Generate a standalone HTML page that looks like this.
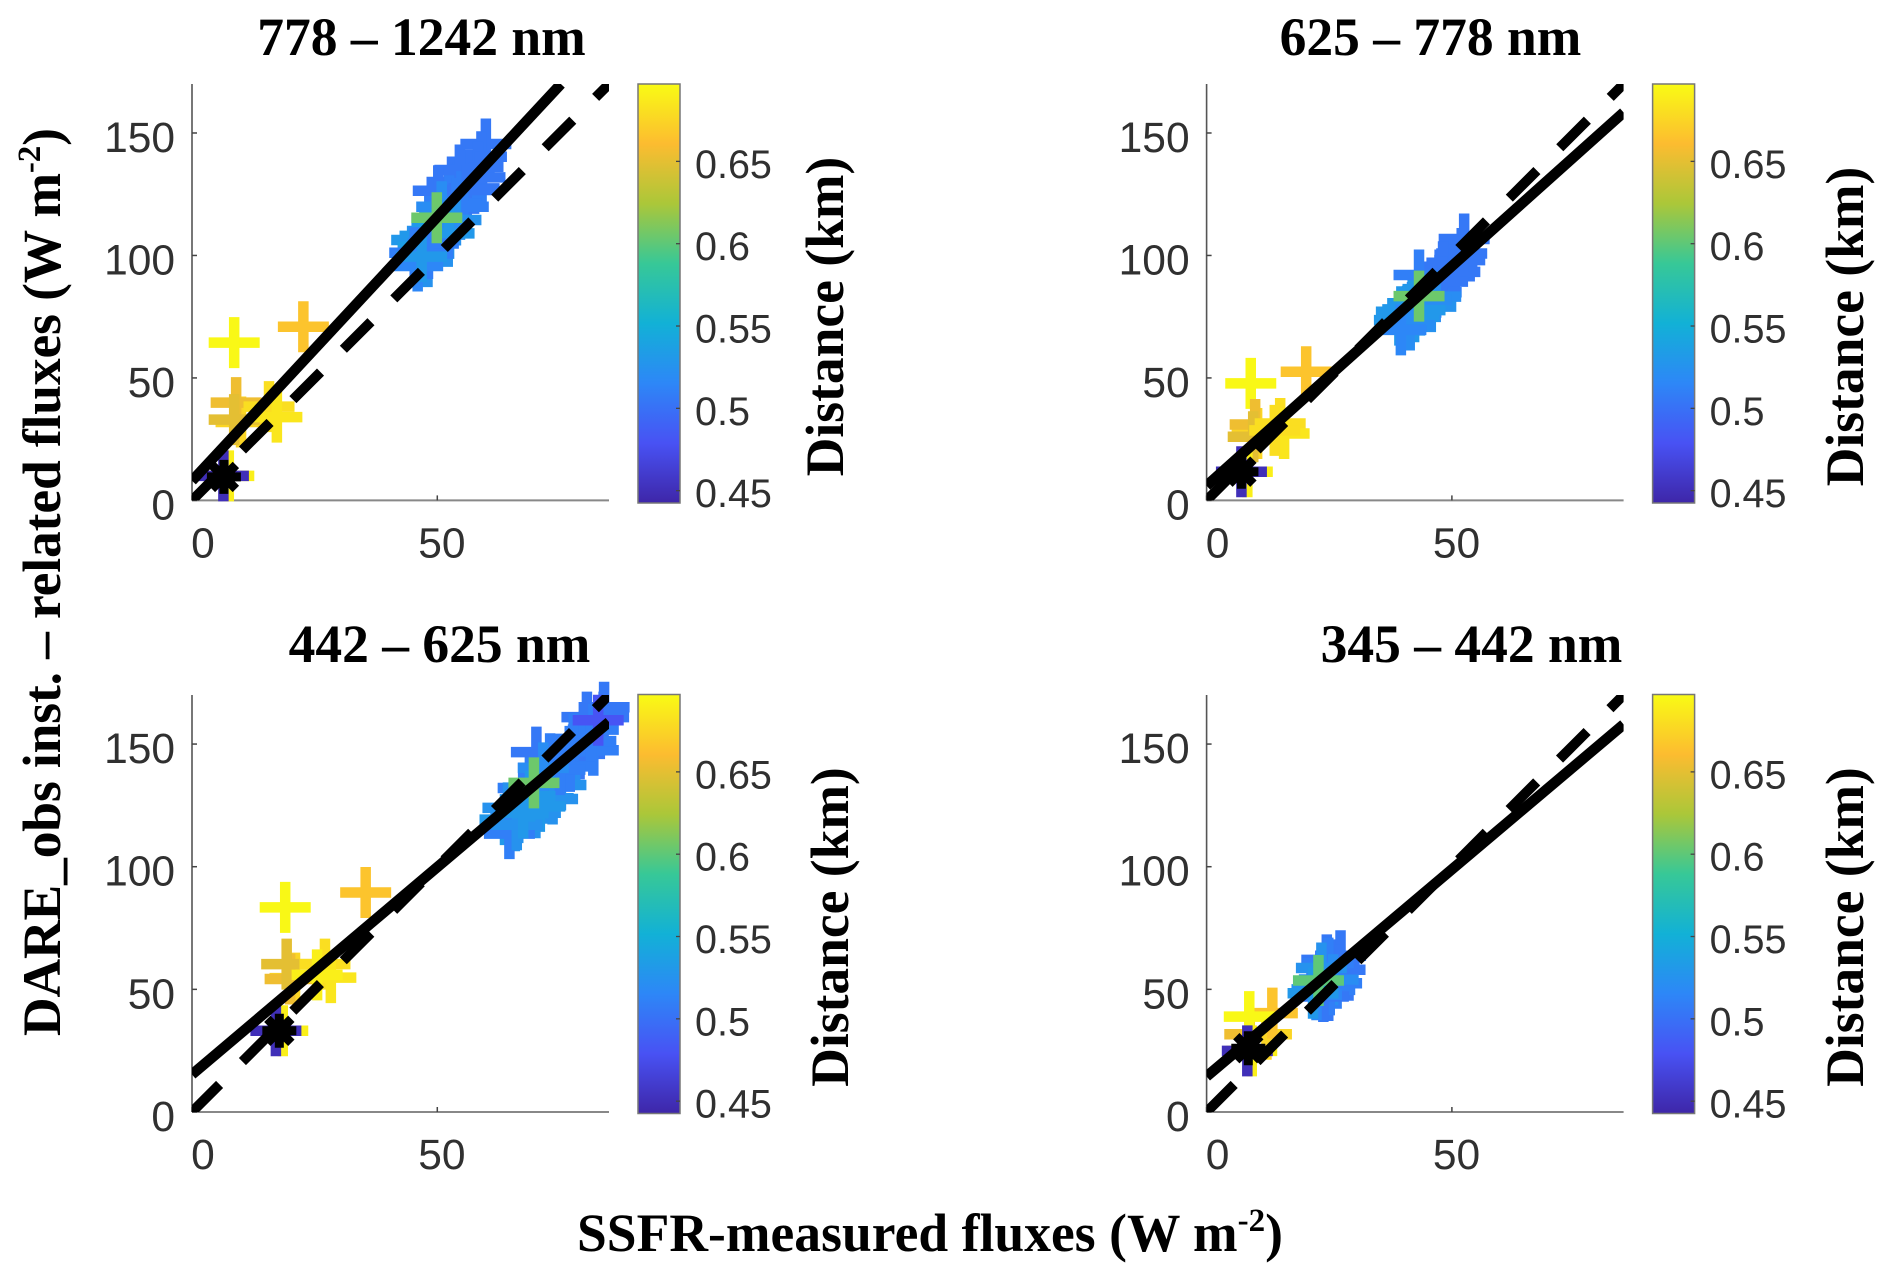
<!DOCTYPE html>
<html lang="en">
<head>
<meta charset="utf-8">
<title>DARE_obs vs SSFR fluxes</title>
<style>
html,body{margin:0;padding:0;background:#fff;width:1892px;height:1282px;overflow:hidden}
svg{display:block}
.tick{font-family:"Liberation Sans",sans-serif;font-size:42.5px;fill:#303030}
.cb{font-family:"Liberation Sans",sans-serif;font-size:39.5px;fill:#303030}
.bold{font-family:"Liberation Serif",serif;font-weight:bold;font-size:53.5px;fill:#000}
</style>
</head>
<body>
<svg id="figure" xmlns="http://www.w3.org/2000/svg" width="1892" height="1282" viewBox="0 0 1892 1282">
  <defs id="defs"></defs>
  <text class="bold" transform="translate(60,1036) rotate(-90)" textLength="908" lengthAdjust="spacing">DARE_obs inst. – related fluxes (W m<tspan dy="-20" font-size="33">-2</tspan><tspan dy="20">)</tspan></text>
  <text class="bold" x="577" y="1251" textLength="706" lengthAdjust="spacing">SSFR-measured fluxes (W m<tspan dy="-20" font-size="33">-2</tspan><tspan dy="20">)</tspan></text>
</svg>
<script>
// Shared ticks and limits
const xTicks = [0, 50];
const yTicks = [0, 50, 100, 150];
const cbTicks = [0.45, 0.5, 0.55, 0.6, 0.65];
const cbTickLabels = ['0.45', '0.5', '0.55', '0.6', '0.65'];
const xLimit = [0, 85];
const yLimit = [0, 170];
const distanceLimit = [0.4425, 0.697];
const parula = ['#3e26a8', '#4852f4', '#2d87f7', '#12b1d6', '#37c897', '#abc739', '#fcbc30', '#f9fb14'];

// Panel titles
const panelTitles = ['778 – 1242 nm', '625 – 778 nm', '442 – 625 nm', '345 – 442 nm'];

// Fit lines
const solidStartY = [8, 6, 15.3, 14.5];
const solidEndX = [75.2, 85, 85, 85];
const solidEndY = [170, 158.4, 159, 158];
const dashedX = [0, 85];
const dashedY = [0, 170];

// Mean (asterisk) points
const meanX = [6.5, 7.1, 17.8, 8.5];
const meanY = [9.6, 11.7, 33.1, 26];

// Panel 1: 778-1242 nm
const p1X = [56.5,53,55,52.5,51.5,49,47.5,50.5,48,59.9,59.0,58.3,58.7,57.5,54.6,50.2,54.9,56.0,50.9,53.9,55.3,53.8,51.9,52.4,45.8,47.1,49.2,45.4,48.1,46.0,46.8,49.9,8.6,22.7,10,9,8.6,15.7,17.3,7.5,6.4];
const p1Y = [133,130,129.5,122.5,118,110,108,108.5,97.5,145.5,140.3,136.2,131.9,127.4,134.9,126.4,124,126.7,119.9,121.2,119.9,114.5,113,109,106.3,103.5,104.9,101.1,100.8,95.7,99.5,115.4,64.4,70.9,32,39.9,33,38.3,34,10,10];
const p1D = [.505,.505,.505,.51,.52,.525,.53,.52,.525,.505,.505,.505,.505,.505,.505,.505,.51,.505,.52,.51,.51,.525,.52,.53,.53,.535,.51,.51,.51,.515,.53,.605,.695,.665,.675,.655,.65,.68,.685,.69,.45];

// Panel 2: 625-778 nm
const p2X = [49.5,47.5,46,45,44,42,41,46.8,45.5,41,50,52.5,52,51.6,50.6,48.2,43.3,48.1,46.7,45.7,44.8,43.5,42.3,39.7,39.3,41.4,39.6,43.3,9,20.3,10.3,9.9,9.5,15,15.8,13.9,8.3,7.1];
const p2Y = [91.5,92,87,85.5,79.5,80.5,74.5,85,80,78,97,106.7,100.8,98.1,93.3,95.4,92,89.3,83.2,79.1,81.8,77.7,75,77,73.6,71.6,69.6,83.4,47.8,52.5,27.3,31,26,31.4,27.3,28.6,11.7,11.7];
const p2D = [.505,.505,.51,.52,.525,.53,.525,.51,.52,.53,.505,.505,.505,.505,.505,.505,.51,.505,.52,.525,.52,.53,.53,.53,.53,.52,.515,.605,.695,.665,.675,.655,.65,.68,.685,.68,.69,.45];

// Panel 3: 442-625 nm
const p3X = [79,80,77,74,72,70,68,66,73,80.5,66.5,83.9,84,81.8,81.8,81.3,77.8,82.8,70.2,75.2,73.5,72.6,70.9,67.5,64.4,63.8,65.8,64.7,66.2,77,75,71.6,68.9,67.5,69.7,19,35.4,21,20,19.3,27.1,28.3,25.5,18.5,17.1];
const p3Y = [146,150,147,136,133,122,124,122,144,161,120,161,165,155.9,147.5,151.2,152.1,159.7,146.7,133.3,127.6,127.9,124.6,132.1,124,119.2,116.7,113.5,117.1,140.9,139.6,140.3,128.7,121.9,134.2,83.4,89.5,54.6,54.2,60.3,60.3,54.8,55.9,33.1,33.1];
const p3D = [.505,.505,.51,.52,.525,.525,.53,.52,.51,.505,.525,.505,.505,.51,.51,.51,.51,.48,.505,.525,.525,.525,.53,.51,.525,.53,.525,.51,.525,.51,.51,.52,.53,.53,.605,.695,.665,.675,.655,.65,.68,.685,.69,.69,.45];

// Panel 4: 345-442 nm
const p4X = [26,25.5,24,23.5,26.5,24.5,22.5,24.8,27.3,27.2,24.8,25.8,25.1,23.8,22.4,23.4,21.7,22.8,8.8,12.2,13.4,8.7,9.2,8.3];
const p4Y = [60,57,54,50.5,52.5,62,50,47.5,63.7,58,60.7,53.9,49.8,47.1,47.8,58.7,48.4,53.6,31.7,31.7,40.3,38.9,24.9,24.9];
const p4D = [.505,.505,.52,.52,.51,.505,.525,.505,.505,.505,.51,.52,.51,.505,.515,.525,.53,.6,.655,.675,.665,.695,.69,.45];

const seriesX = [p1X, p2X, p3X, p4X];
const seriesY = [p1Y, p2Y, p3Y, p4Y];
const seriesD = [p1D, p2D, p3D, p4D];

const SVG_NS = 'http://www.w3.org/2000/svg';
const figure = document.getElementById('figure');
const defs = document.getElementById('defs');

function hex(h) {
  return [parseInt(h.slice(1, 3), 16), parseInt(h.slice(3, 5), 16), parseInt(h.slice(5, 7), 16)];
}
function colorFor(d) {
  const f = Math.max(0, Math.min(1, (d - distanceLimit[0]) / (distanceLimit[1] - distanceLimit[0])));
  const p = f * (parula.length - 1);
  const i = Math.min(parula.length - 2, Math.floor(p));
  const a = hex(parula[i]);
  const b = hex(parula[i + 1]);
  const t = p - i;
  return 'rgb(' + a.map((v, k) => Math.round(v + (b[k] - v) * t)).join(',') + ')';
}
function make(parent, tag, attrs) {
  const el = document.createElementNS(SVG_NS, tag);
  for (const k in attrs) el.setAttribute(k, attrs[k]);
  parent.appendChild(el);
  return el;
}

// Colorbar gradient from the colormap
const grad = make(defs, 'linearGradient', {id: 'parula-grad', x1: 0, y1: 1, x2: 0, y2: 0});
parula.forEach((c, i) => make(grad, 'stop', {offset: i / (parula.length - 1), 'stop-color': c}));

const layouts = [
  {left: 192, bottom: 500.4, top: 84, cbBottom: 503, titleX: 421.5, titleY: 55, cbTitleX: 843, cbTitleY: 316.5},
  {left: 1206.6, bottom: 500.4, top: 84, cbBottom: 503, titleX: 1430.5, titleY: 55, cbTitleX: 1863, cbTitleY: 326.5},
  {left: 192, bottom: 1112, top: 695, cbBottom: 1113.5, titleX: 439.5, titleY: 662, cbTitleX: 848, cbTitleY: 927},
  {left: 1206.6, bottom: 1112, top: 695, cbBottom: 1113.5, titleX: 1471.5, titleY: 662, cbTitleX: 1863, cbTitleY: 927}
];
const axisW = 417;
const cbHeight = 419;

layouts.forEach((L, pi) => {
  const xs = v => L.left + (v - xLimit[0]) / (xLimit[1] - xLimit[0]) * axisW;
  const ys = v => L.bottom - (v - yLimit[0]) / (yLimit[1] - yLimit[0]) * (L.bottom - L.top);
  const cbY = d => L.cbBottom - (d - distanceLimit[0]) / (distanceLimit[1] - distanceLimit[0]) * cbHeight;

  const panel = make(figure, 'g', {});
  
  

  const clip = make(defs, 'clipPath', {id: 'clip-' + pi});
  make(clip, 'rect', {x: L.left, y: L.top, width: axisW, height: L.bottom - L.top});

  const title = make(panel, 'text', {class: 'bold', x: L.titleX, y: L.titleY, 'text-anchor': 'middle'});
  
  
  title.textContent = panelTitles[pi];

  // Axes
  const yAxis = make(panel, 'line', {x1: L.left, x2: L.left, y1: L.top, y2: L.bottom, stroke: '#555', 'stroke-width': 1.6});
  
  
  const xAxis = make(panel, 'line', {x1: L.left, x2: L.left + axisW, y1: L.bottom, y2: L.bottom, stroke: '#888', 'stroke-width': 2});
  
  

  yTicks.forEach(v => {
    const t = make(panel, 'line', {x1: L.left, x2: L.left + 5, y1: ys(v), y2: ys(v), stroke: '#444', 'stroke-width': 1.5});
    
    
    const lab = make(panel, 'text', {class: 'tick', x: L.left - 17, y: ys(v) + 19, 'text-anchor': 'end'});
    
    
    lab.textContent = v;
  });
  xTicks.forEach(v => {
    const t = make(panel, 'line', {x1: xs(v), x2: xs(v), y1: L.bottom, y2: L.bottom - 5, stroke: '#444', 'stroke-width': 1.5});
    
    
    const lab = make(panel, 'text', {class: 'tick', x: L.left + 11 + (xs(v) - L.left) * 0.974, y: L.bottom + 57, 'text-anchor': 'middle'});
    
    
    lab.textContent = v;
  });

  // Scatter marks
  const X = seriesX[pi];
  const Y = seriesY[pi];
  const D = seriesD[pi];
  X.forEach((xv, i) => {
    const cx = xs(xv);
    const cy = ys(Y[i]);
    const r = 25.5;
    const mark = make(panel, 'path', {
      d: 'M' + (cx - r) + ' ' + cy + 'H' + (cx + r) + 'M' + cx + ' ' + (cy - r) + 'V' + (cy + r),
      stroke: colorFor(D[i]), 'stroke-width': 10.5, fill: 'none'
    });
    
    
  });

  // Reference and fit lines
  const lines = make(panel, 'g', {'clip-path': 'url(#clip-' + pi + ')'});
  
  
  const dashed = make(lines, 'line', {
    x1: xs(dashedX[0]), y1: ys(dashedY[0]), x2: xs(dashedX[1]), y2: ys(dashedY[1]),
    stroke: '#000', 'stroke-width': 10, 'stroke-dasharray': '39 32.3'
  });
  
  
  const solid = make(lines, 'line', {
    x1: xs(0), y1: ys(solidStartY[pi]), x2: xs(solidEndX[pi]), y2: ys(solidEndY[pi]),
    stroke: '#000', 'stroke-width': 10.5
  });
  
  

  // Mean asterisk
  const mx = xs(meanX[pi]);
  const my = ys(meanY[pi]);
  const a = 17;
  const b = 12;
  const star = make(panel, 'path', {
    d: 'M' + (mx - a) + ' ' + my + 'H' + (mx + a) + 'M' + mx + ' ' + (my - a) + 'V' + (my + a) +
       'M' + (mx - b) + ' ' + (my - b) + 'L' + (mx + b) + ' ' + (my + b) +
       'M' + (mx - b) + ' ' + (my + b) + 'L' + (mx + b) + ' ' + (my - b),
    stroke: '#000', 'stroke-width': 9, fill: 'none'
  });
  
  

  // Colorbar
  const cbLeft = L.left + 446;
  const bar = make(panel, 'rect', {x: cbLeft, y: L.cbBottom - cbHeight, width: 42, height: cbHeight, fill: 'url(#parula-grad)', stroke: '#777', 'stroke-width': 1.5});
  
  
  cbTicks.forEach((v, i) => {
    const t = make(panel, 'line', {x1: cbLeft + 42, x2: cbLeft + 38, y1: cbY(v), y2: cbY(v), stroke: '#444', 'stroke-width': 1.3});
    
    
    const lab = make(panel, 'text', {class: 'cb', x: cbLeft + 57, y: cbY(v) + 16.5});
    
    
    lab.textContent = cbTickLabels[i];
  });
  const cbTitle = make(panel, 'text', {class: 'bold', 'text-anchor': 'middle', transform: 'translate(' + L.cbTitleX + ',' + L.cbTitleY + ') rotate(-90)'});
  
  
  cbTitle.textContent = 'Distance (km)';
});
</script>
</body>
</html>
